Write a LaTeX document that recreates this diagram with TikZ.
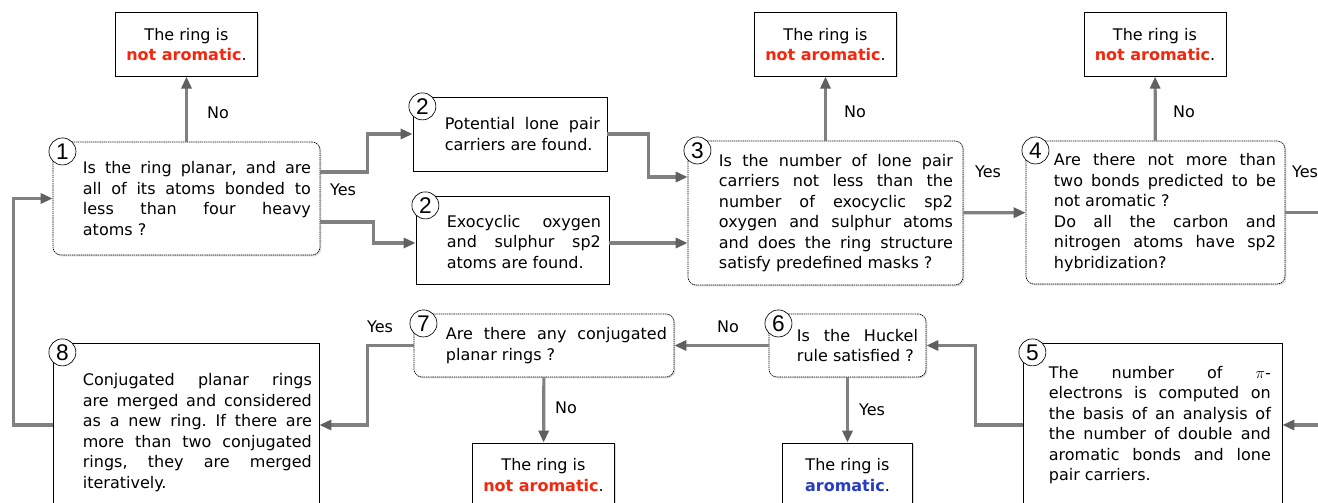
\documentclass[tikz,border=0pt]{standalone}
\usepackage{fontspec}
\setmainfont{DejaVu Sans}
\newfontfamily\numfont{Liberation Sans}
\usetikzlibrary{arrows.meta,calc,shadows}
\frenchspacing

\definecolor{nored}{RGB}{246,38,12}
\definecolor{yesblue}{RGB}{38,60,196}
\definecolor{flowgray}{RGB}{128,128,128}
\definecolor{tipgray}{RGB}{96,96,96}

\newcommand{\notarom}{\textbf{\color{nored}not aromatic}}
\newcommand{\isarom}{\textbf{\color{yesblue}aromatic}}

\tikzset{
  every node/.style={font=\fontsize{12}{15.4}\selectfont},
  boxshadow/.style={drop shadow={shadow xshift=1pt,shadow yshift=-1pt,opacity=0.3}},
  outbox/.style={draw, line width=0.6pt, fill=white, align=center, inner sep=0pt, minimum height=47.5pt, boxshadow},
  stepbox/.style={draw, line width=0.6pt, fill=white, boxshadow},
  askbox/.style={draw, line width=0.5pt, dash pattern=on 1pt off 0.6pt, rounded corners=6pt, fill=white, boxshadow},
  boxtext/.style={anchor=west, text width=#1, align=justify, inner sep=0pt},
  num/.style={circle, draw, line width=0.5pt, fill=white, inner sep=0pt, minimum size=20.25pt, anchor=north west, font=\numfont\fontsize{17}{17}\selectfont},
  lbl/.style={inner sep=1pt},
  flow/.style={draw=flowgray, line width=2.4pt, -{Triangle[length=9pt,width=7.5pt,color=tipgray]}}
}

\begin{document}
\begin{tikzpicture}[x=0.75pt,y=0.75pt,yscale=-1,xscale=1]
\useasboundingbox (0,0) rectangle (1318,503);
\clip (0,0) rectangle (1318,503);

% end boxes
\node[outbox, minimum width=106pt] (n1) at (186.5,44.5) {The ring is\\\notarom.};
\node[outbox, minimum width=106pt] (n3) at (825.5,44.5) {The ring is\\\notarom.};
\node[outbox, minimum width=106.5pt] (n4) at (1155,44.5) {The ring is\\\notarom.};
\node[outbox, minimum width=106pt, minimum height=48pt] (n7) at (543.5,475) {The ring is\\\notarom.};
\node[outbox, minimum width=98pt, minimum height=48pt] (n6) at (847.5,475) {The ring is\\\isarom.};

% step 1
\node[askbox, minimum width=200.25pt, minimum height=84.75pt] (q1) at (186.5,198.5) {};
\node[boxtext=171pt] (q1t) at ($(q1.west)+(30,0)$) {Is the ring planar, and are\linebreak all of its atoms bonded to\linebreak less than four heavy\linebreak atoms ?};
\node[num] (c1) at (q1.north west) {1};

% step 2
\node[stepbox, minimum width=145.5pt, minimum height=55.5pt] (p2a) at (510,134) {};
\node[boxtext=116.25pt] (p2at) at ($(p2a.west)+(32,0)$) {Potential lone pair\linebreak carriers are found.};
\node[num] (c2a) at (p2a.north west) {2};

\node[stepbox, minimum width=144.75pt, minimum height=66pt] (p2b) at (512.5,240) {};
\node[boxtext=115.5pt] (p2bt) at ($(p2b.west)+(31,2)$) {Exocyclic oxygen\linebreak and sulphur sp2\linebreak atoms are found.};
\node[num] (c2b) at (p2b.north west) {2};

% step 3
\node[askbox, minimum width=206.25pt, minimum height=108pt] (q3) at (825.5,213) {};
\node[boxtext=175.5pt] (q3t) at ($(q3.west)+(31,0)$) {Is the number of lone pair\linebreak carriers not less than the\linebreak number of exocyclic sp2\linebreak oxygen and sulphur atoms\linebreak and does the ring structure\linebreak satisfy predefined masks ?};
\node[num] (c3) at (q3.north west) {3};

% step 4
\node[askbox, minimum width=194.25pt, minimum height=107.25pt] (q4) at (1155.5,212.5) {};
\node[boxtext=166.5pt] (q4t) at ($(q4.west)+(28,0)$) {Are there not more than\linebreak two bonds predicted to be\linebreak not aromatic ?\\Do all the carbon and\linebreak nitrogen atoms have sp2\linebreak hybridization?};
\node[num] (c4) at (q4.north west) {4};

% step 5
\node[stepbox, minimum width=194.25pt, minimum height=123pt] (b5) at (1152.5,425) {};
\node[boxtext=166.5pt] (b5t) at ($(b5.west)+(26,0)$) {The number of $\pi$-\linebreak electrons is computed on\linebreak the basis of an analysis of\linebreak the number of double and\linebreak aromatic bonds and lone\linebreak pair carriers.};
\node[num] (c5) at (b5.north west) {5};

% step 6
\node[askbox, minimum width=117.75pt, minimum height=47.25pt] (q6) at (847.5,345.5) {};
\node[boxtext=90.75pt] (q6t) at ($(q6.west)+(28,0)$) {Is the Huckel\linebreak rule satisfied ?};
\node[num] (c6) at (q6.north west) {6};

% step 7
\node[askbox, minimum width=195pt, minimum height=47.25pt] (q7) at (544,345.5) {};
\node[boxtext=165.75pt] (q7t) at ($(q7.west)+(32,0)$) {Are there any conjugated\linebreak planar rings ?};
\node[num] (c7) at (q7.north west) {7};

% step 8
\node[stepbox, minimum width=199.5pt, minimum height=123pt] (b8) at (186,425) {};
\node[boxtext=171.75pt] (b8t) at ($(b8.west)+(30,7.5)$) {Conjugated planar rings\linebreak are merged and considered\linebreak as a new ring. If there are\linebreak more than two conjugated\linebreak rings, they are merged\linebreak iteratively.};
\node[num] (c8) at (b8.north west) {8};

% loose ends at the right border
\coordinate (out4) at (1330,212.5);
\coordinate (in5) at (1330,425);

% connectors
\draw[flow] (q1) -- (n1);
\draw[flow] ($(q1.east)+(0,-26.5)$) -- ++(47,0) |- (p2a.west);
\draw[flow] ($(q1.east)+(0,23.5)$) -- ++(53,0) |- ($(p2b.west)+(0,3)$);
\draw[flow] (p2a.east) -- ++(41,0) |- ($(q3.west)+(0,-36)$);
\draw[flow] ($(p2b.east)+(0,3)$) coordinate (p2bout) -- (p2bout -| q3.west);
\draw[flow] (q3) -- (n3);
\draw[flow] (q3) -- (q4);
\draw[flow] (q4) -- (n4);
\draw[flow] (q4.east) -- (out4);
\draw[flow] (in5) -- (b5.east);
\draw[flow] (b5.west) -- ++(-47,0) |- (q6.east);
\draw[flow] (q6) -- (q7);
\draw[flow] (q6) -- (n6);
\draw[flow] (q7) -- (n7);
\draw[flow] (q7.west) -- ++(-46,0) |- (b8.east);
\draw[flow] (b8.west) -- ++(-39,0) |- (q1.west);

% answers
\node[lbl] (no1) at (218,113) {No};
\node[lbl] (yes1) at (343,190) {Yes};
\node[lbl] (no3) at (855,112) {No};
\node[lbl] (yes3) at (988,172) {Yes};
\node[lbl] (no4) at (1184,112) {No};
\node[lbl] (yes4) at (1305,172) {Yes};
\node[lbl] (no6) at (728,327) {No};
\node[lbl] (yes7) at (380,327) {Yes};
\node[lbl] (no7) at (566,408) {No};
\node[lbl] (yes6) at (872,410) {Yes};

\end{tikzpicture}
\end{document}
